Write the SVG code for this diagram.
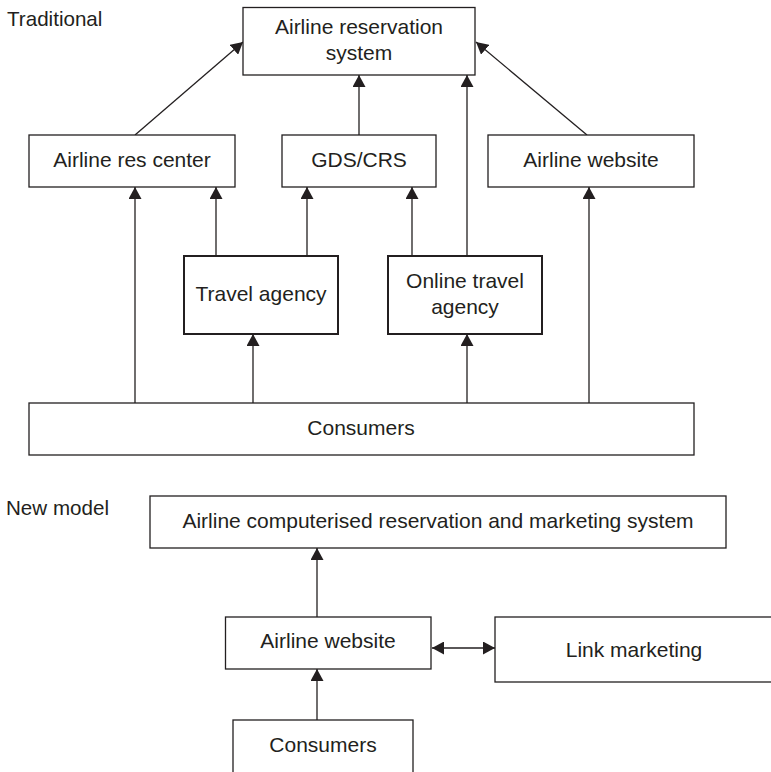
<svg xmlns="http://www.w3.org/2000/svg" width="771" height="772" viewBox="0 0 771 772">
<defs>
<style>
.box{fill:#fff;stroke:#231f20;stroke-width:1.3}
.boxb{fill:#fff;stroke:#231f20;stroke-width:2}
.t{font-family:"Liberation Sans",Arial,sans-serif;font-size:21px;fill:#231f20;text-anchor:middle}
.lbl{font-family:"Liberation Sans",Arial,sans-serif;font-size:20.6px;fill:#231f20}
.c{stroke:#231f20;stroke-width:1.3;fill:none;marker-end:url(#ah)}
</style>
<marker id="ah" markerUnits="userSpaceOnUse" markerWidth="13" markerHeight="13" refX="12" refY="6.5" orient="auto">
<path d="M0,0 L12,6.5 L0,13 Z" fill="#231f20"/>
</marker>
<marker id="as" markerUnits="userSpaceOnUse" markerWidth="13" markerHeight="13" refX="0" refY="6.5" orient="auto">
<path d="M12,0 L0,6.5 L12,13 Z" fill="#231f20"/>
</marker>
</defs>
<rect width="771" height="772" fill="#fff"/>
<text class="lbl" x="7" y="26">Traditional</text>
<text class="lbl" x="6" y="515">New model</text>
<g id="connectors">
<line class="c" x1="135" y1="135" x2="243" y2="42"/>
<line class="c" x1="359" y1="135" x2="359" y2="75"/>
<line class="c" x1="467" y1="256" x2="467" y2="75"/>
<line class="c" x1="587" y1="135" x2="476" y2="42"/>
<line class="c" x1="216" y1="256" x2="216" y2="187"/>
<line class="c" x1="307" y1="256" x2="307" y2="187"/>
<line class="c" x1="412" y1="256" x2="412" y2="187"/>
<line class="c" x1="135" y1="403" x2="135" y2="187"/>
<line class="c" x1="253" y1="403" x2="253" y2="334"/>
<line class="c" x1="467" y1="403" x2="467" y2="334"/>
<line class="c" x1="589" y1="403" x2="589" y2="187"/>
<line class="c" x1="317" y1="617" x2="317" y2="548"/>
<line class="c" x1="317" y1="720" x2="317" y2="669"/>
<line class="c" x1="432" y1="648" x2="495" y2="648" style="marker-start:url(#as)"/>
</g>
<g id="ars">
<rect class="box" x="243" y="7.5" width="232" height="67.5"/>
<text class="t" x="359" y="34">Airline reservation</text>
<text class="t" x="359" y="60">system</text>
</g>
<g id="res-center">
<rect class="box" x="29" y="135" width="206" height="52"/>
<text class="t" x="132" y="167">Airline res center</text>
</g>
<g id="gds">
<rect class="box" x="282" y="135" width="154" height="52"/>
<text class="t" x="359" y="167">GDS/CRS</text>
</g>
<g id="website">
<rect class="box" x="488" y="135" width="206" height="52"/>
<text class="t" x="591" y="167">Airline website</text>
</g>
<g id="travel-agency">
<rect class="boxb" x="184" y="256" width="154" height="78"/>
<text class="t" x="261" y="301">Travel agency</text>
</g>
<g id="ota">
<rect class="boxb" x="388" y="256" width="154" height="78"/>
<text class="t" x="465" y="288">Online travel</text>
<text class="t" x="465" y="314">agency</text>
</g>
<g id="consumers">
<rect class="box" x="29" y="403" width="665" height="52"/>
<text class="t" x="361" y="435">Consumers</text>
</g>
<g id="acrms">
<rect class="box" x="150" y="496" width="576" height="52"/>
<text class="t" x="438" y="528">Airline computerised reservation and marketing system</text>
</g>
<g id="website-new">
<rect class="box" x="225.5" y="617" width="205.5" height="52"/>
<text class="t" x="328" y="648">Airline website</text>
</g>
<g id="link-marketing">
<rect class="box" x="495" y="617" width="290" height="65"/>
<text class="t" x="634" y="657">Link marketing</text>
</g>
<g id="consumers-new">
<rect class="box" x="233" y="720" width="180" height="70"/>
<text class="t" x="323" y="752">Consumers</text>
</g>
</svg>
